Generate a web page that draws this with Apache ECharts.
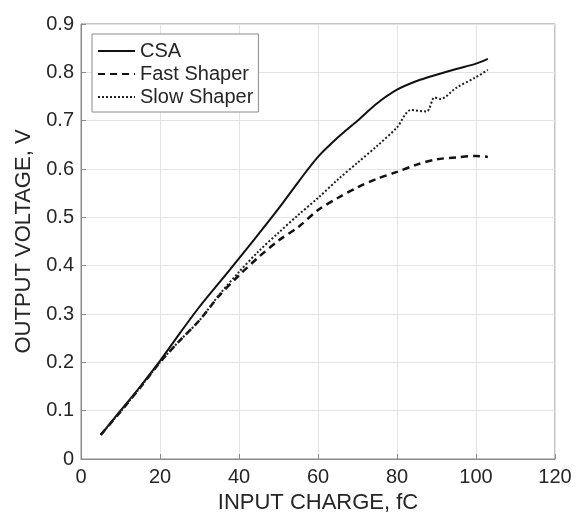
<!DOCTYPE html>
<html>
<head>
<meta charset="utf-8">
<script src="https://cdn.jsdelivr.net/npm/echarts@6/dist/echarts.min.js"></script>
<style>html,body{margin:0;padding:0;background:#fff}#c{width:588px;height:521px}</style>
</head>
<body>
<div id="c"></div>
<script>
// Input charge (fC) sample points and measured output voltages (V)
const csaX  = [5, 10, 15, 20, 25, 30, 35, 40, 45, 50, 55, 60, 65, 70, 75, 80, 85, 90, 95, 100, 103];
const csaY  = [0.050, 0.100, 0.150, 0.203, 0.260, 0.315, 0.365, 0.415, 0.466, 0.518, 0.573, 0.625, 0.665, 0.700, 0.736, 0.764, 0.782, 0.795, 0.807, 0.818, 0.828];
const fastX = [5, 10, 15, 20, 25, 30, 35, 40, 45, 50, 55, 60, 65, 70, 75, 80, 85, 90, 95, 100, 103];
const fastY = [0.050, 0.098, 0.148, 0.200, 0.245, 0.287, 0.338, 0.380, 0.418, 0.452, 0.480, 0.515, 0.540, 0.562, 0.580, 0.594, 0.609, 0.620, 0.624, 0.627, 0.625];
const slowX = [5, 10, 15, 20, 25, 30, 35, 40, 45, 50, 55, 60, 65, 70, 75, 80, 83.5, 87.5, 89.5, 91, 95, 100, 103];
const slowY = [0.050, 0.098, 0.148, 0.200, 0.245, 0.287, 0.340, 0.387, 0.430, 0.468, 0.505, 0.540, 0.578, 0.613, 0.648, 0.686, 0.722, 0.719, 0.748, 0.745, 0.768, 0.790, 0.805];
const seriesNames = ['CSA', 'Fast Shaper', 'Slow Shaper'];
const xTicks = [0, 20, 40, 60, 80, 100, 120];
const yTicks = [0, 0.1, 0.2, 0.3, 0.4, 0.5, 0.6, 0.7, 0.8, 0.9];

const pairs = (xs, ys) => xs.map((x, i) => [x, ys[i]]);
const FONT = 'Liberation Sans, Arial, sans-serif';
const TXT = '#262626';

const chart = echarts.init(document.getElementById('c'));
chart.setOption({
  animation: false,
  backgroundColor: '#fff',
  grid: { left: 81, right: 33, top: 24, bottom: 62, show: true, borderColor: '#8a8a8a', borderWidth: 1, backgroundColor: 'transparent' },
  legend: {
    orient: 'vertical', left: 92, top: 34,
    data: seriesNames,
    itemWidth: 37, itemHeight: 14, itemGap: 3,
    padding: [7, 5, 5, 5],
    backgroundColor: '#fff', borderColor: '#8a8a8a', borderWidth: 1, borderRadius: 0,
    itemStyle: { opacity: 0 },
    textStyle: { fontFamily: FONT, fontSize: 20, color: TXT, lineHeight: 20 }
  },
  xAxis: {
    type: 'value', min: xTicks[0], max: xTicks[xTicks.length - 1], interval: 20,
    name: 'INPUT CHARGE, fC', nameLocation: 'middle', nameGap: 33,
    nameTextStyle: { fontFamily: FONT, fontSize: 22, color: TXT },
    axisLine: { show: true, lineStyle: { color: '#8a8a8a', width: 1 } },
    axisTick: { show: true, inside: true, length: 5, lineStyle: { color: '#8a8a8a' } },
    axisLabel: { fontFamily: FONT, fontSize: 20, color: TXT, margin: 8 },
    splitLine: { show: true, lineStyle: { color: '#e3e3e3', width: 1 } }
  },
  yAxis: {
    type: 'value', min: yTicks[0], max: yTicks[yTicks.length - 1], interval: 0.1,
    name: 'OUTPUT VOLTAGE, V', nameLocation: 'middle', nameGap: 43,
    nameTextStyle: { fontFamily: FONT, fontSize: 22, color: TXT },
    axisLine: { show: true, lineStyle: { color: '#8a8a8a', width: 1 } },
    axisTick: { show: true, inside: true, length: 5, lineStyle: { color: '#8a8a8a' } },
    axisLabel: { fontFamily: FONT, fontSize: 20, color: TXT, margin: 7,
      formatter: v => String(Math.round(v * 10) / 10) },
    splitLine: { show: true, lineStyle: { color: '#e3e3e3', width: 1 } }
  },
  series: [
    { name: seriesNames[0], type: 'line', data: pairs(csaX, csaY), symbol: 'none', smooth: 0.3,
      lineStyle: { color: '#111', width: 2, type: 'solid' }, itemStyle: { color: '#111' } },
    { name: seriesNames[1], type: 'line', data: pairs(fastX, fastY), symbol: 'none', smooth: 0.3,
      lineStyle: { color: '#111', width: 2.5, type: [7, 5] }, itemStyle: { color: '#111' } },
    { name: seriesNames[2], type: 'line', data: pairs(slowX, slowY), symbol: 'none', smooth: 0.3,
      lineStyle: { color: '#222', width: 2, type: [2, 2] }, itemStyle: { color: '#222' } }
  ]
});
</script>
</body>
</html>
